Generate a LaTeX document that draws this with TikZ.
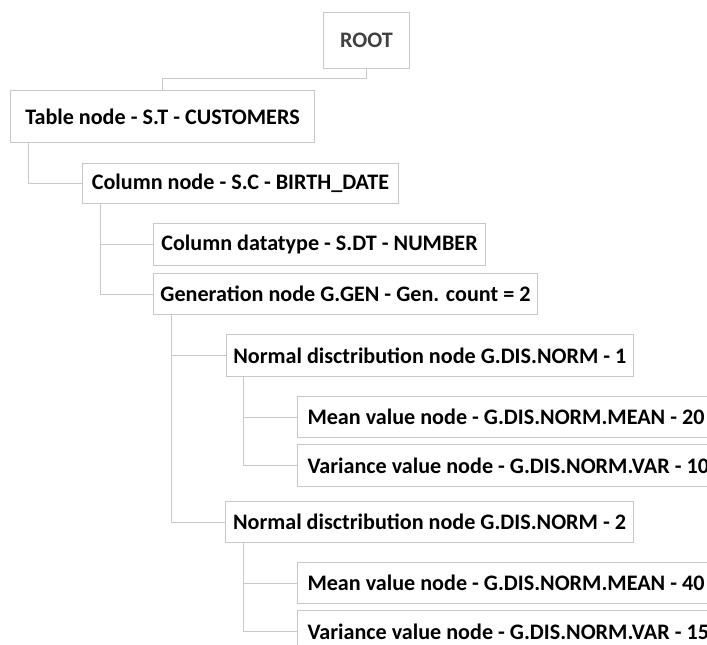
\documentclass[tikz,border=0pt]{standalone}
\usepackage{fontspec}
\setmainfont{Carlito}
\definecolor{linegray}{RGB}{200,200,200}
\definecolor{rootgray}{RGB}{64,64,64}
\tikzset{
	tbox/.style={draw=linegray, line width=0.75pt, anchor=north west, inner sep=0pt,
		font=\fontsize{16.6}{18}\selectfont\bfseries},
	lbox/.style={tbox, inner xsep=7.5pt, text width=400pt, align=flush left},
	conn/.style={draw=linegray, line width=0.75pt}
}
\begin{document}
\begin{tikzpicture}[x=0.75pt,y=-0.75pt]
	\useasboundingbox (0,0) rectangle (707,645);
	\clip (0,0) rectangle (707,645);
	% boxes
	\node[tbox, minimum width=64.5pt, minimum height=42pt, text=rootgray] (root) at (323,12) {ROOT};
	\node[tbox, minimum width=228pt, minimum height=39pt] (table) at (10,90) {Table node - S.T - CUSTOMERS};
	\node[tbox, minimum width=237pt, minimum height=30pt] (column) at (82,163) {Column node - S.C - BIRTH\_DATE};
	\node[tbox, minimum width=249pt, minimum height=31.5pt] (dtype) at (153,223) {Column datatype - S.DT - NUMBER};
	\node[tbox, minimum width=288pt, minimum height=31pt] (gen) at (153,273) {Generation node G.GEN - Gen. count = 2};
	\node[tbox, minimum width=305pt, minimum height=31.5pt] (norm1) at (226,334) {Normal disctribution node G.DIS.NORM - 1};
	\node[lbox, minimum height=31pt] (mean1) at (297,396) {Mean value node - G.DIS.NORM.MEAN - 20};
	\node[lbox, minimum height=31.5pt] (var1) at (297,444) {Variance value node - G.DIS.NORM.VAR - 10};
	\node[tbox, minimum width=306pt, minimum height=31pt] (norm2) at (225,501) {Normal disctribution node G.DIS.NORM - 2};
	\node[lbox, minimum height=31pt] (mean2) at (297,562) {Mean value node - G.DIS.NORM.MEAN - 40};
	\node[lbox, minimum height=31.5pt] (var2) at (297,610) {Variance value node - G.DIS.NORM.VAR - 15};
	% connectors
	\draw[conn] (root.south)--++(0,10)-|(table.north);
	\draw[conn] ([xshift=13.5pt]table.south west)|-(column.west);
	\draw[conn] ([xshift=13.5pt]column.south west)|-(dtype.west);
	\draw[conn] ([xshift=13.5pt]column.south west)|-(gen.west);
	\draw[conn] ([xshift=14pt]gen.south west)|-(norm1.west);
	\draw[conn] ([xshift=14pt]gen.south west)|-(norm2.west);
	\draw[conn] ([xshift=13pt]norm1.south west)|-(mean1.west);
	\draw[conn] ([xshift=13pt]norm1.south west)|-(var1.west);
	\draw[conn] ([xshift=13.5pt]norm2.south west)|-(mean2.west);
	\draw[conn] ([xshift=13.5pt]norm2.south west)|-(var2.west);
\end{tikzpicture}
\end{document}
